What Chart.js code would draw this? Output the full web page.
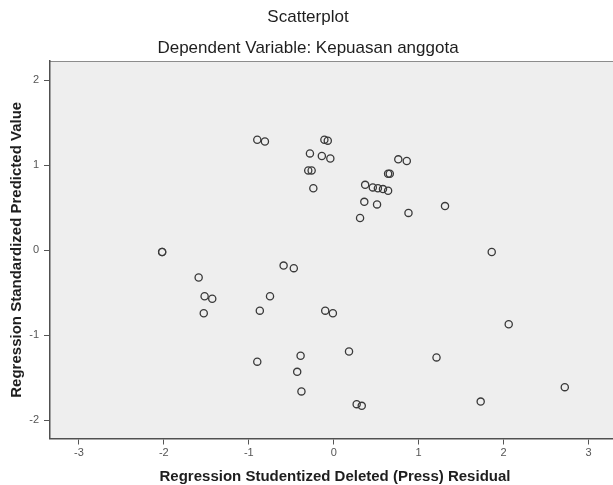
<!DOCTYPE html>
<html>
<head>
<meta charset="utf-8">
<script src="https://cdn.jsdelivr.net/npm/chart.js@4.4.1/dist/chart.umd.min.js"></script>
<style>
  html, body { margin: 0; padding: 0; background: #fff; overflow: hidden; }
  #wrap { width: 613px; height: 485px; overflow: hidden; position: relative; }
  #wrap canvas { position: absolute; left: 0; top: 0; }
</style>
</head>
<body>
<div id="wrap"><canvas id="scatter" width="640" height="485"></canvas></div>
<script>
// Valores (residuo studentizado vs valor pronosticado)
const residuals = [
  -0.90, -0.81, -0.11, -0.07, -0.28, -0.14, -0.04, -0.30, -0.26, -0.24,
   0.76,  0.86,  0.64,  0.66,  0.37,  0.46,  0.52,  0.58,  0.64,  0.36,
   0.51,  0.31,  0.88,  1.31,  1.86,  2.06,  1.21,  2.72,  1.73, -2.02,
  -2.02, -1.59, -1.52, -1.43, -1.53, -0.59, -0.47, -0.75, -0.87, -0.10,
  -0.01, -0.90, -0.39,  0.18, -0.43, -0.38,  0.27,  0.33
];
const predicted = [
   1.30,  1.28,  1.30,  1.29,  1.14,  1.11,  1.08,  0.94,  0.94,  0.73,
   1.07,  1.05,  0.90,  0.90,  0.77,  0.74,  0.73,  0.72,  0.70,  0.57,
   0.54,  0.38,  0.44,  0.52, -0.02, -0.87, -1.26, -1.61, -1.78, -0.02,
  -0.02, -0.32, -0.54, -0.57, -0.74, -0.18, -0.21, -0.54, -0.71, -0.71,
  -0.74, -1.31, -1.24, -1.19, -1.43, -1.66, -1.81, -1.83
];
const xTicks = [-3, -2, -1, 0, 1, 2, 3];
const yTicks = [-2, -1, 0, 1, 2];

const chartTitle = 'Scatterplot';
const chartSubtitle = 'Dependent Variable: Kepuasan anggota';
const xTitle = 'Regression Studentized Deleted (Press) Residual';
const yTitle = 'Regression Standardized Predicted Value';

const FONT = "'Liberation Sans', Arial, sans-serif";

const points = residuals.map((x, i) => ({ x: x, y: predicted[i] }));

const framePlugin = {
  id: 'framePlugin',
  beforeDraw(chart) {
    const { ctx, chartArea: a } = chart;
    ctx.save();
    ctx.fillStyle = '#eeeeee';
    ctx.fillRect(a.left, a.top, a.right - a.left, a.bottom - a.top);
    ctx.strokeStyle = '#8c8c8c';
    ctx.lineWidth = 1.2;
    ctx.beginPath();
    ctx.moveTo(a.left, a.top + 0.5);
    ctx.lineTo(a.right, a.top + 0.5);
    ctx.stroke();
    ctx.restore();
  },
  afterDraw(chart) {
    const { ctx, chartArea: a } = chart;
    ctx.save();
    ctx.fillStyle = '#1e1e1e';
    ctx.textAlign = 'center';
    ctx.textBaseline = 'middle';
    ctx.font = '17px ' + FONT;
    ctx.fillText(chartTitle, 308, 17);
    ctx.fillText(chartSubtitle, 308, 48);

    ctx.font = 'bold 15px ' + FONT;
    ctx.fillText(xTitle, (a.left + a.right) / 2, 477);

    ctx.translate(16.5, (a.top + a.bottom) / 2);
    ctx.rotate(-Math.PI / 2);
    ctx.fillText(yTitle, 0, 0);
    ctx.restore();
  }
};

const tickFont = { family: FONT, size: 11 };

new Chart(document.getElementById('scatter'), {
  type: 'scatter',
  data: {
    datasets: [{
      data: points,
      pointStyle: 'circle',
      pointRadius: 3.6,
      pointHoverRadius: 3.6,
      pointBorderWidth: 1.3,
      pointBorderColor: '#3a3a3a',
      pointBackgroundColor: 'rgba(0,0,0,0)'
    }]
  },
  options: {
    responsive: false,
    animation: false,
    layout: { padding: { top: 61, right: 20, left: 0, bottom: 0 } },
    plugins: {
      legend: { display: false },
      tooltip: { enabled: false },
      title: { display: false }
    },
    scales: {
      x: {
        type: 'linear',
        min: -3.34,
        max: 3.37,
        afterFit(scale) { scale.height = 46.5; },
        afterBuildTicks(scale) { scale.ticks = xTicks.map(v => ({ value: v })); },
        ticks: { font: tickFont, color: '#555', padding: 2, maxRotation: 0 },
        grid: { drawOnChartArea: false, tickLength: 6, color: '#555', lineWidth: 1 },
        border: { display: true, color: '#505050', width: 1.5 }
      },
      y: {
        type: 'linear',
        min: -2.214,
        max: 2.227,
        afterFit(scale) { scale.width = 50; },
        afterBuildTicks(scale) { scale.ticks = yTicks.map(v => ({ value: v })); },
        ticks: { font: tickFont, color: '#555', padding: 5 },
        grid: { drawOnChartArea: false, tickLength: 6, color: '#555', lineWidth: 1 },
        border: { display: true, color: '#505050', width: 1.5 }
      }
    }
  },
  plugins: [framePlugin]
});
</script>
</body>
</html>
